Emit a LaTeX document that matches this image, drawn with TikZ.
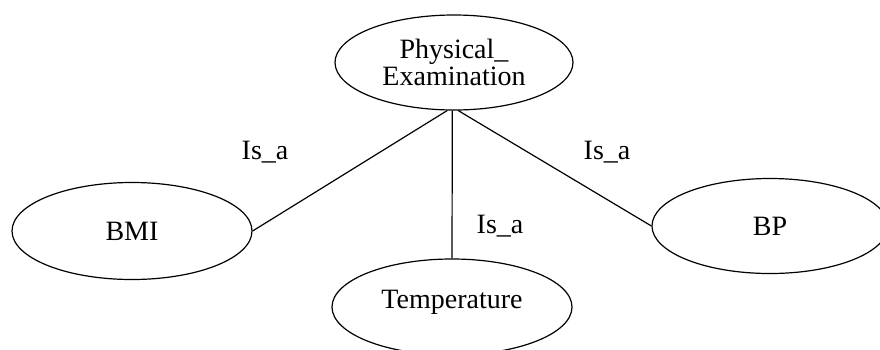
\documentclass[tikz,border=0pt]{standalone}
\usepackage{fontspec}
\setmainfont{Liberation Serif}
\usetikzlibrary{shapes.geometric}
\tikzset{
  ent/.style={draw, ellipse, line width=1.2pt, inner sep=0pt, align=center,
    font=\fontsize{28}{27}\selectfont},
  rel/.style={line width=1.2pt},
  lbl/.style={font=\fontsize{28}{30}\selectfont, inner sep=0pt}
}
\begin{document}
\begin{tikzpicture}[x=1pt,y=-1pt]
\useasboundingbox (0,0) rectangle (880,349);
\node[ent, minimum width=238pt, minimum height=95pt] (phys) at (454,62.5) {Physical\_\\Examination};
\node[ent, minimum width=240pt, minimum height=97pt] (bmi) at (132,231) {BMI};
\node[ent, minimum width=240pt, minimum height=96pt] (temp) at (452,307) {\raisebox{16pt}{Temperature}};
\node[ent, minimum width=236pt, minimum height=95pt] (bp) at (770,226) {BP};
\draw[rel] (phys.-98.5) -- (bmi.east);
\draw[rel] (phys.-92.4) -- (temp.north);
\draw[rel] (phys.-85) -- (bp.west);
\node[lbl] (l1) at (265,152) {Is\_a};
\node[lbl] (l2) at (500,226) {Is\_a};
\node[lbl] (l3) at (607,152) {Is\_a};
\end{tikzpicture}
\end{document}
